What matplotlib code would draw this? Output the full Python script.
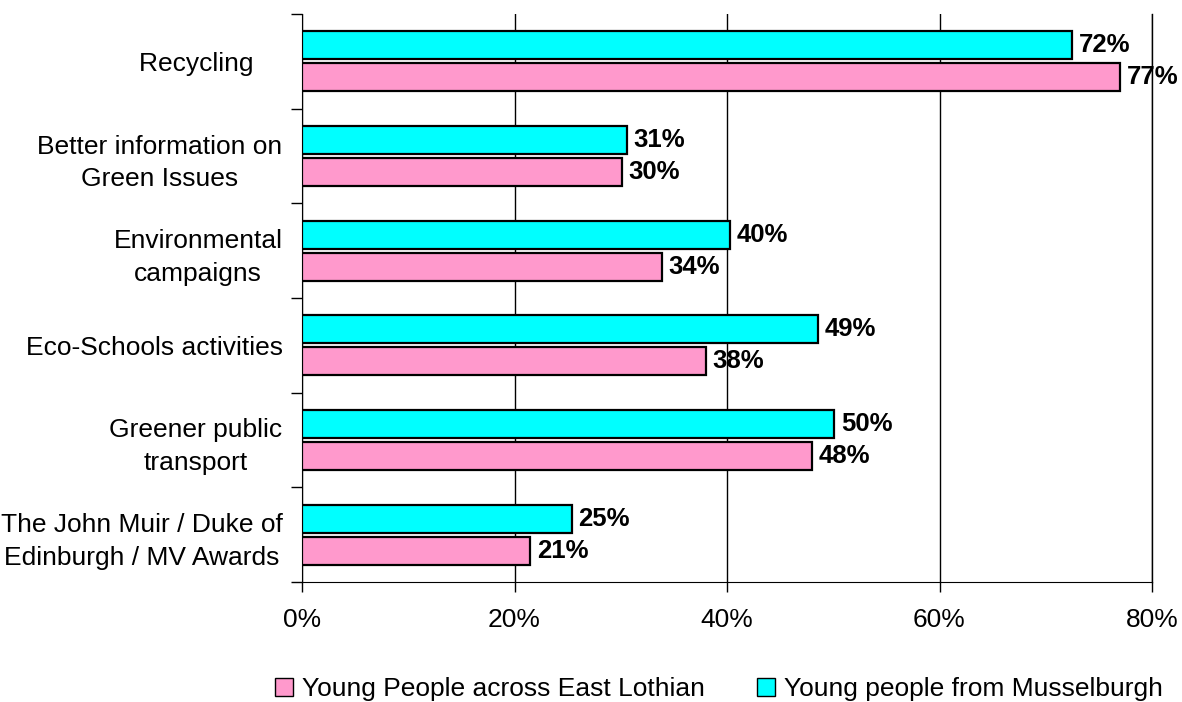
import matplotlib.pyplot as plt
import matplotlib.patches as mpatches
import numpy as np

plt.rcParams['font.family'] = ['Liberation Sans', 'DejaVu Sans']

# Dados do grafico
categorias = ['Recycling    ', 'Better information on\nGreen Issues', 'Environmental\ncampaigns',
              'Eco-Schools activities', 'Greener public\ntransport',
              'The John Muir / Duke of\nEdinburgh / MV Awards']
musselburgh = [72.5, 30.6, 40.3, 48.6, 50.1, 25.4]
east_lothian = [77.0, 30.1, 33.9, 38.0, 48.0, 21.5]
rot_musselburgh = ['72%', '31%', '40%', '49%', '50%', '25%']
rot_east_lothian = ['77%', '30%', '34%', '38%', '48%', '21%']
nome_east = 'Young People across East Lothian'
nome_muss = 'Young people from Musselburgh'

cor_ciano = '#00FFFF'
cor_rosa = '#FF99CC'

fig = plt.figure(figsize=(11.82, 7.02), dpi=100)
ax = fig.add_axes([302/1182, 1-582/702, 850/1182, 568/702])

y = np.arange(len(categorias))
h = 0.296
d = 0.169
ax.barh(y - d, musselburgh, height=h, color=cor_ciano, edgecolor='black', linewidth=1.6, zorder=3)
ax.barh(y + d, east_lothian, height=h, color=cor_rosa, edgecolor='black', linewidth=1.6, zorder=3)

for i in range(len(categorias)):
    ax.text(musselburgh[i] + 0.6, y[i] - d, rot_musselburgh[i], va='center', ha='left',
            fontsize=18.5, fontweight='bold', zorder=4)
    ax.text(east_lothian[i] + 0.6, y[i] + d, rot_east_lothian[i], va='center', ha='left',
            fontsize=18.5, fontweight='bold', zorder=4)

ax.set_xlim(0, 80)
ax.set_ylim(len(categorias) - 0.5, -0.5)
ax.set_xticks([0, 20, 40, 60, 80])
ax.set_xticklabels(['0%', '20%', '40%', '60%', '80%'], fontsize=19)
ax.xaxis.grid(True, color='black', linewidth=1, zorder=0)
ax.tick_params(axis='x', length=7, width=1, pad=12, direction='out')

# ticks nas divisoes e rotulos no centro
ax.set_yticks(np.arange(len(categorias) + 1) - 0.5)
ax.set_yticklabels([])
ax.tick_params(axis='y', which='major', length=8, width=1)
ax.set_yticks(y, minor=True)
ax.set_yticklabels(categorias, minor=True, fontsize=19, multialignment='center', linespacing=1.45)
ax.tick_params(axis='y', which='minor', length=0, pad=14)

ax.spines['top'].set_visible(False)
ax.spines['right'].set_linewidth(1)

handles = [mpatches.Patch(facecolor=cor_rosa, edgecolor='black', label=nome_east),
           mpatches.Patch(facecolor=cor_ciano, edgecolor='black', label=nome_muss)]
fig.legend(handles=handles, loc='center', bbox_to_anchor=(719/1182, 1-689/702), ncol=2,
           frameon=False, handlelength=0.65, handleheight=0.65, handletextpad=0.35,
           columnspacing=2.0, prop={'family': ['Liberation Sans'], 'size': 19})

fig.savefig('out.png', dpi=100)
